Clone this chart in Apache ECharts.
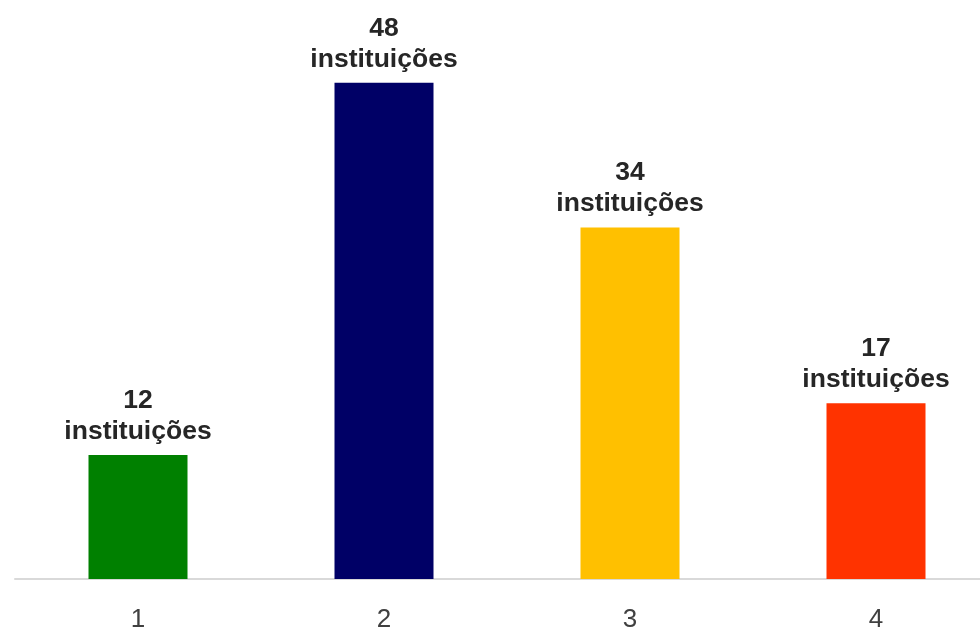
<!DOCTYPE html>
<html>
<head>
<meta charset="utf-8">
<script src="https://cdn.jsdelivr.net/npm/echarts@6/dist/echarts.min.js"></script>
<style>html,body{margin:0;padding:0;background:#fff}#c{width:980px;height:629px}</style>
</head>
<body>
<div id="c"></div>
<script>
const categories = ['1', '2', '3', '4'];
const values = [12, 48, 34, 17];
const colors = ['#008000', '#000066', '#FFC000', '#FF3300'];
const labelSuffix = 'instituições';

const chart = echarts.init(document.getElementById('c'));
chart.setOption({
  animation: false,
  grid: { left: 15, top: 0, right: -19, bottom: 50, containLabel: false, outerBoundsMode: 'none' },
  xAxis: {
    type: 'category',
    data: categories,
    axisLine: { lineStyle: { color: '#d9d9d9', width: 2 } },
    axisTick: { show: false },
    axisLabel: { color: '#404040', fontSize: 26, fontFamily: 'Liberation Sans, Arial', margin: 28 }
  },
  yAxis: { type: 'value', min: 0, max: 56, show: false, splitLine: { show: false } },
  series: [{
    type: 'bar',
    barWidth: 99,
    data: values.map((v, i) => ({ value: v, itemStyle: { color: colors[i] } })),
    label: {
      show: true,
      position: 'top',
      distance: 8,
      formatter: p => p.value + '\n' + labelSuffix,
      color: '#262626',
      fontSize: 26.5,
      fontWeight: 'bold',
      lineHeight: 31,
      fontFamily: 'Liberation Sans, Arial'
    }
  }]
});
</script>
</body>
</html>
